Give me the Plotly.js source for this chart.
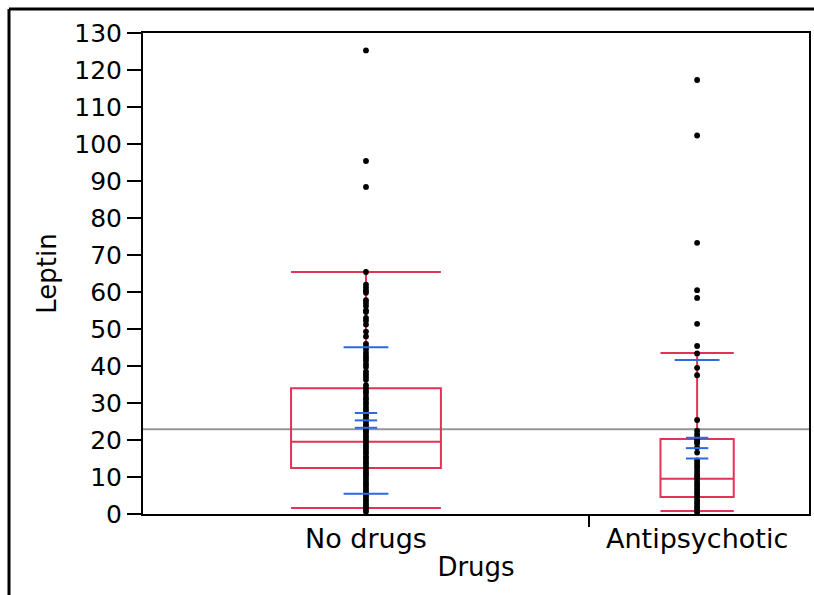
<!DOCTYPE html>
<html>
<head>
<meta charset="utf-8">
<script src="https://cdn.plot.ly/plotly-3.0.1.min.js"></script>
<style>html,body{margin:0;padding:0;background:#fff;}#chart{width:814px;height:595px;}</style>
</head>
<body>
<div id="chart"></div>
<script>
// ---- data ----
const categories = ["No drugs", "Antipsychotic"];
const noDrugsPoints = [125.3, 95.4, 88.4, 65.4, 62.0, 61.2, 60.4, 59.8, 57.8, 57.0, 56.2, 55.0, 54.6, 53.0, 52.2, 51.2,
  49.3, 48.0, 46.0, 45.2, 44.5, 43.6, 42.8, 42.1, 41.4, 40.5, 39.7, 38.5, 37.8, 37.0, 36.3, 34.8, 34.0, 33.2,
  32.5, 31.6, 31.0, 30.2, 29.5, 28.7, 28.0, 27.1, 26.5, 25.8, 25.0, 24.2, 23.6, 22.8, 22.3, 21.7, 21.0, 20.3,
  19.6, 19.0, 18.4, 17.7, 17.0, 16.4, 15.6, 15.0, 14.3, 13.7, 13.0, 12.3, 11.6, 11.0, 10.4, 9.7, 9.0, 8.3,
  7.7, 7.0, 6.4, 5.8, 5.0, 4.4, 3.7, 3.0, 2.4, 1.8, 1.2, 0.6];
const antiPoints = [117.3, 102.3, 73.3, 60.5, 58.4, 51.4, 45.4, 43.4, 39.5, 37.5, 25.4, 22.5, 21.6, 20.9, 20.2,
  19.6, 19.1, 18.0, 16.6, 14.5, 13.8, 13.1, 12.4, 11.6, 10.9, 10.2, 9.5, 8.7, 8.0, 7.3, 6.6, 5.9, 5.2, 4.5,
  3.8, 3.1, 2.5, 1.8, 1.2, 0.5];
// box stats: [No drugs, Antipsychotic]
const q1 = [12.4, 4.6];
const medians = [19.5, 9.5];
const q3 = [34.0, 20.3];
const lowerWhisker = [1.6, 0.8];
const upperWhisker = [65.4, 43.5];
// mean, standard error, standard deviation
const means = [25.3, 17.8];
const stdErr = [2.0, 2.8];
const stdDev = [19.8, 23.8];
const grandMean = 22.9;
const yTicks = [0,10,20,30,40,50,60,70,80,90,100,110,120,130];

// ---- layout constants ----
const centers = [0.3348, 0.832];   // group centres (x axis proportional to group size)
const separator = 0.6697;
const boxWidths = [0.225, 0.11];
const red = "rgb(226,50,86)";
const blue = "rgb(45,105,225)";

const traces = [];
for (let i = 0; i < 2; i++) {
  traces.push({
    type: "box", x: [centers[i]], q1: [q1[i]], median: [medians[i]], q3: [q3[i]],
    lowerfence: [lowerWhisker[i]], upperfence: [upperWhisker[i]],
    width: boxWidths[i], whiskerwidth: 1, boxpoints: false,
    line: {color: red, width: 2}, fillcolor: "rgba(0,0,0,0)", hoverinfo: "skip", showlegend: false
  });
}
const ptsList = [noDrugsPoints, antiPoints];
for (let i = 0; i < 2; i++) {
  traces.push({
    type: "scatter", mode: "markers", x: ptsList[i].map(() => centers[i]), y: ptsList[i],
    marker: {color: "black", size: 5.8}, showlegend: false, hoverinfo: "y"
  });
}
for (let i = 0; i < 2; i++) {
  // mean error bars
  traces.push({
    type: "scatter", mode: "markers", x: [centers[i], centers[i], centers[i]],
    y: [means[i] - stdErr[i], means[i], means[i] + stdErr[i]],
    marker: {symbol: "line-ew-open", size: 16, color: blue, line: {color: blue, width: 2}}, showlegend: false, hoverinfo: "y"
  });
  // std dev lines
  traces.push({
    type: "scatter", mode: "markers", x: [centers[i], centers[i]],
    y: [means[i] - stdDev[i], means[i] + stdDev[i]],
    marker: {symbol: "line-ew-open", size: 32, color: blue, line: {color: blue, width: 2}}, showlegend: false, hoverinfo: "y",
    cliponaxis: true
  });
}

const font = "DejaVu Sans, Verdana, sans-serif";
const layout = {
  width: 814, height: 595,
  margin: {l: 143, r: 5, t: 33, b: 81},
  paper_bgcolor: "white", plot_bgcolor: "white",
  font: {family: font, color: "black"},
  xaxis: {
    range: [0, 1], tickmode: "array", tickvals: centers, ticktext: categories, ticks: "",
    tickfont: {size: 27, family: font}, showgrid: false, zeroline: false,
    showline: true, mirror: true, linecolor: "black", linewidth: 2,
    title: {text: "Drugs", font: {size: 26, family: font}, standoff: 4}
  },
  yaxis: {
    range: [0, 130], tickmode: "array", tickvals: yTicks, ticks: "outside", ticklen: 14, tickwidth: 2,
    tickcolor: "black", tickfont: {size: 25, family: font}, showgrid: false, zeroline: false,
    showline: true, mirror: true, linecolor: "black", linewidth: 2,
    title: {text: "Leptin", font: {size: 26, family: font}, standoff: 10}
  },
  shapes: [
    {type: "line", xref: "paper", yref: "y", x0: 0, x1: 1, y0: grandMean, y1: grandMean,
     line: {color: "rgb(150,150,150)", width: 2}, layer: "below"},
    {type: "line", xref: "x", yref: "paper", x0: separator, x1: separator, y0: 0, y1: -0.027,
     line: {color: "black", width: 2}},
    {type: "line", xref: "paper", yref: "paper", x0: -0.2012, x1: 1.01, y0: 1.0499, y1: 1.0499,
     line: {color: "black", width: 3}},
    {type: "line", xref: "paper", yref: "paper", x0: -0.2012, x1: -0.2012, y0: 1.0499, y1: -0.2,
     line: {color: "black", width: 3}}
  ]
};
Plotly.newPlot("chart", traces, layout, {displayModeBar: false, staticPlot: true});
</script>
</body>
</html>
